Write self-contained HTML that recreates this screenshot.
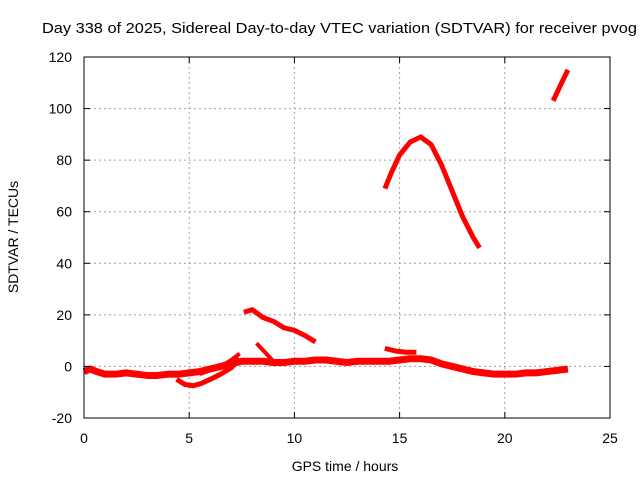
<!DOCTYPE html>
<html><head><meta charset="utf-8"><style>
html,body{margin:0;padding:0;background:#fff;}
svg{display:block;font-family:"Liberation Sans",sans-serif;}
</style></head><body>
<svg id="chart" width="640" height="480" viewBox="0 0 640 480">
<rect width="640" height="480" fill="#fff"/>
<text x="42" y="33" font-size="15" textLength="595" lengthAdjust="spacingAndGlyphs">Day 338 of 2025, Sidereal Day-to-day VTEC variation (SDTVAR) for receiver pvog</text>
<g id="grid"></g>
<g id="series"></g>
<rect x="84" y="57" width="526" height="361" fill="none" stroke="#000" stroke-width="1"/>
<g id="ticks"></g>
<text x="345" y="471" font-size="14" text-anchor="middle">GPS time / hours</text>
<text x="0" y="0" font-size="14" text-anchor="middle" transform="translate(18,237) rotate(-90)">SDTVAR / TECUs</text>
</svg>
<script>
const xTicks = [0,5,10,15,20,25];
const yTicks = [-20,0,20,40,60,80,100,120];
const mainBandH = [0,0.3,0.6,1,1.5,2,2.5,3,3.5,4,4.5,5,5.5,6,6.5,7,7.5,8,8.5,9,9.5,10,10.5,11,11.5,12,12.5,13,13.5,14,14.5,15,15.5,16,16.5,17,17.5,18,18.5,19,19.5,20,20.5,21,21.5,22,22.5,23];
const mainBandV = [-2,-1,-2,-3,-3,-2.5,-3,-3.5,-3.5,-3,-3,-2.5,-2,-1,0,1,2,2,2,1.5,1.5,2,2,2.5,2.5,2,1.5,2,2,2,2,2.5,3,3,2.5,1,0,-1,-2,-2.5,-3,-3,-3,-2.5,-2.5,-2,-1.5,-1];
const lowBranchH = [4.4,4.8,5.2,5.6,6,6.5,7,7.4];
const lowBranchV = [-5,-7,-7.5,-6.5,-5,-3,-0.5,3];
const upperBranchH = [5.5,6,6.5,7,7.4];
const upperBranchV = [-3,-1.5,0,2.5,5];
const arc1H = [7.6,8,8.5,9,9.5,10,10.5,11];
const arc1V = [21,22,19,17.5,15,14,12,9.5];
const spikeH = [8.2,8.6,9];
const spikeV = [9,5.5,2];
const shortSegH = [14.3,14.8,15.3,15.8];
const shortSegV = [7,6,5.5,5.5];
const bigArcH = [14.3,14.6,15,15.5,16,16.5,17,17.5,18,18.5,18.8];
const bigArcV = [69,75,82,87,89,86,78,68,58,50,46];
const lastSegH = [22.3,22.7,23];
const lastSegV = [103,110,115];

const X0=84,X1=610,Y0=418,Y1=57;
const xs = h => X0 + (h-0)/(25-0)*(X1-X0);
const ys = v => Y0 - (v+20)/(140)*(Y0-Y1);
const NS="http://www.w3.org/2000/svg";
const grid=document.getElementById('grid'), ticks=document.getElementById('ticks'), series=document.getElementById('series');
xTicks.forEach(t=>{
  const x=xs(t);
  if(t>0&&t<25){
    const l=document.createElementNS(NS,'line');
    l.setAttribute('x1',x);l.setAttribute('x2',x);l.setAttribute('y1',Y1);l.setAttribute('y2',Y0);
    l.setAttribute('stroke','#a0a0a0');l.setAttribute('stroke-dasharray','2,3');
    
    
    grid.appendChild(l);
  }
  [[Y0,Y0-6],[Y1,Y1+6]].forEach(p=>{
    const k=document.createElementNS(NS,'line');
    k.setAttribute('x1',x);k.setAttribute('x2',x);k.setAttribute('y1',p[0]);k.setAttribute('y2',p[1]);k.setAttribute('stroke','#000');
    
    
    ticks.appendChild(k);
  });
  const tx=document.createElementNS(NS,'text');
  tx.setAttribute('x',x);tx.setAttribute('y',443);tx.setAttribute('font-size','14');tx.setAttribute('text-anchor','middle');
  tx.textContent=t;
  
  
  ticks.appendChild(tx);
});
yTicks.forEach(t=>{
  const y=ys(t);
  if(t>-20&&t<120){
    const l=document.createElementNS(NS,'line');
    l.setAttribute('x1',X0);l.setAttribute('x2',X1);l.setAttribute('y1',y);l.setAttribute('y2',y);
    l.setAttribute('stroke','#a0a0a0');l.setAttribute('stroke-dasharray','2,3');
    
    
    grid.appendChild(l);
  }
  [[X0,X0+6],[X1,X1-6]].forEach(p=>{
    const k=document.createElementNS(NS,'line');
    k.setAttribute('x1',p[0]);k.setAttribute('x2',p[1]);k.setAttribute('y1',y);k.setAttribute('y2',y);k.setAttribute('stroke','#000');
    
    
    ticks.appendChild(k);
  });
  const tx=document.createElementNS(NS,'text');
  tx.setAttribute('x',72);tx.setAttribute('y',y+5);tx.setAttribute('font-size','14');tx.setAttribute('text-anchor','end');
  tx.textContent=t;
  
  
  ticks.appendChild(tx);
});
function drawSeries(H,V,name,w){
  const p=document.createElementNS(NS,'polyline');
  p.setAttribute('points',H.map((h,i)=>xs(h)+','+ys(V[i])).join(' '));
  p.setAttribute('fill','none');p.setAttribute('stroke','#ff0000');p.setAttribute('stroke-width',w);
  p.setAttribute('stroke-linejoin','round');
  
  
  series.appendChild(p);
}
drawSeries(mainBandH,mainBandV,'main-band-series',7);
drawSeries(lowBranchH,lowBranchV,'low-branch-series',5);
drawSeries(upperBranchH,upperBranchV,'upper-branch-series',4);
drawSeries(arc1H,arc1V,'arc-series-8h',5);
drawSeries(spikeH,spikeV,'spike-series',4);
drawSeries(shortSegH,shortSegV,'short-segment-series',5);
drawSeries(bigArcH,bigArcV,'big-arc-series',5);
drawSeries(lastSegH,lastSegV,'late-segment-series',5);
</script>
</body></html>
